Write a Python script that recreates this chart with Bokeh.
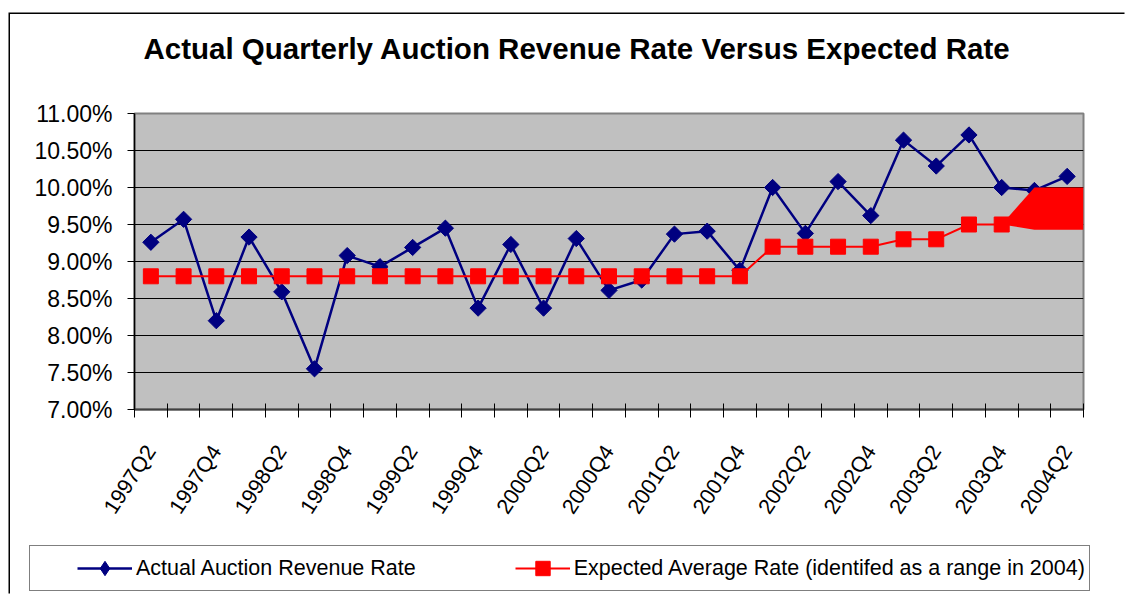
from bokeh.plotting import figure
from bokeh.models import FixedTicker, PrintfTickFormatter, Legend, LegendItem, Range1d, Title
from bokeh.layouts import column
from bokeh.embed import file_html
from bokeh.resources import INLINE
import math

# ---------------- data ----------------
quarters = ["1997Q2", "1997Q3", "1997Q4",
            "1998Q1", "1998Q2", "1998Q3", "1998Q4",
            "1999Q1", "1999Q2", "1999Q3", "1999Q4",
            "2000Q1", "2000Q2", "2000Q3", "2000Q4",
            "2001Q1", "2001Q2", "2001Q3", "2001Q4",
            "2002Q1", "2002Q2", "2002Q3", "2002Q4",
            "2003Q1", "2003Q2", "2003Q3", "2003Q4",
            "2004Q1", "2004Q2"]

actual = [9.26, 9.57, 8.20,
          9.33, 8.59, 7.55, 9.08,
          8.93, 9.19, 9.45, 8.37,
          9.23, 8.37, 9.31, 8.61,
          8.75, 9.37, 9.41, 8.88,
          10.00, 9.38, 10.08, 9.62,
          10.64, 10.29, 10.71, 10.00,
          9.96, 10.15]

expected_quarters = quarters[:27]
expected = [8.80, 8.80, 8.80,
            8.80, 8.80, 8.80, 8.80,
            8.80, 8.80, 8.80, 8.80,
            8.80, 8.80, 8.80, 8.80,
            8.80, 8.80, 8.80, 8.80,
            9.20, 9.20, 9.20, 9.20,
            9.30, 9.30, 9.50, 9.50]

# expected range identified for 2004
range_quarters = ["2003Q4", "2004Q1", "2004Q2"]
range_low = [9.50, 9.43, 9.43]
range_high = [9.50, 10.00, 10.00]

y_ticks = [7.0, 7.5, 8.0, 8.5, 9.0, 9.5, 10.0, 10.5, 11.0]
x_label_quarters = quarters[::2]

title_text = "Actual Quarterly Auction Revenue Rate Versus Expected Rate"
label_actual = "Actual Auction Revenue Rate"
label_expected = "Expected Average Rate (identifed as a range in 2004)"

# ---------------- styling ----------------
FONT = "Liberation Sans"
NAVY = "#000080"
RED = "#FF0000"

n = len(quarters)
x_actual = [quarters.index(q) for q in quarters]
x_expected = [quarters.index(q) for q in expected_quarters]

# ---------------- main chart ----------------
p = figure(width=1116, height=526, title=None,
           x_range=Range1d(-0.5, n - 0.5), y_range=Range1d(y_ticks[0], y_ticks[-1]),
           output_backend="svg", toolbar_location=None,
           min_border_left=124, min_border_right=43,
           min_border_top=99, min_border_bottom=131)
p.frame_align = False

p.background_fill_color = "#C0C0C0"
p.border_fill_color = "white"
p.outline_line_color = "#808080"
p.outline_line_width = 2

# spacer between title and plot area, then the title itself
p.add_layout(Title(text=" ", text_font_size="10px", standoff=36), "above")
p.add_layout(Title(text=title_text, text_font=FONT, text_font_size="29.5px",
                   text_font_style="bold", text_color="black", align="left",
                   offset=9, standoff=0), "above")

# grid
p.xgrid.grid_line_color = None
p.ygrid.ticker = FixedTicker(ticks=y_ticks)
p.ygrid.grid_line_color = "black"
p.ygrid.grid_line_width = 1

# y axis
ya = p.yaxis[0]
ya.ticker = FixedTicker(ticks=y_ticks)
ya.formatter = PrintfTickFormatter(format="%.2f%%")
ya.major_label_text_font = FONT
ya.major_label_text_font_size = "23px"
ya.major_label_text_color = "black"
ya.major_tick_out = 7
ya.major_tick_in = 0
ya.major_tick_line_color = "black"
ya.minor_tick_line_color = None
ya.axis_line_color = "black"
ya.axis_line_width = 1.5
ya.major_label_standoff = 15

# x axis
xa = p.xaxis[0]
label_idx = [quarters.index(q) for q in x_label_quarters]
xa.ticker = FixedTicker(ticks=label_idx, minor_ticks=[i - 0.5 for i in range(n + 1)])
xa.major_label_overrides = {i: quarters[i] for i in label_idx}
xa.major_label_orientation = math.radians(57)
xa.major_label_text_font = FONT
xa.major_label_text_font_size = "21.5px"
xa.major_label_text_color = "black"
xa.major_tick_in = 0
xa.major_tick_out = 0
xa.minor_tick_in = 6
xa.minor_tick_out = 8
xa.minor_tick_line_color = "black"
xa.minor_tick_line_width = 1
xa.axis_line_color = "#404040"
xa.axis_line_width = 2
xa.major_label_standoff = 30

# series
line_a = dict(line_color=NAVY, line_width=2.5)
mark_a = dict(marker="square", angle=math.pi / 4, size=11.5, fill_color=NAVY, line_color=NAVY)
line_e = dict(line_color=RED, line_width=2)
mark_e = dict(marker="square", size=15, fill_color=RED, line_color=RED)

p.line(x_actual, actual, **line_a)
p.scatter(x_actual, actual, **mark_a)
p.line(x_expected, expected, **line_e)
rx = [quarters.index(q) for q in range_quarters] + [p.x_range.end]
p.varea(x=rx, y1=range_low + [range_low[-1]], y2=range_high + [range_high[-1]],
        fill_color=RED)
p.scatter(x_expected, expected, **mark_e)

# ---------------- legend strip ----------------
# same series drawn again but outside this strip's visible ranges, only for the legend keys
lg = figure(width=1116, height=55, title=None, x_axis_location=None, y_axis_location=None,
            x_range=Range1d(-3 * n, -2 * n), y_range=Range1d(0, 1),
            output_backend="svg", toolbar_location=None,
            min_border_left=0, min_border_right=0, min_border_top=0, min_border_bottom=0)
lg.frame_align = False
lg.outline_line_color = None
lg.grid.grid_line_color = None
lg.background_fill_color = "white"
lg.border_fill_color = "white"

g1 = lg.line(x_actual, actual, **line_a)
g2 = lg.scatter(x_actual, actual, marker="diamond", size=16, fill_color=NAVY, line_color=NAVY)
g3 = lg.line(x_expected, expected, **line_e)
g4 = lg.scatter(x_expected, expected, **mark_e)

legend = Legend(items=[LegendItem(label=label_actual, renderers=[g1, g2]),
                       LegendItem(label=label_expected, renderers=[g3, g4])],
                orientation="horizontal", location=(19, 4))
legend.margin = 0
legend.padding = 4
legend.spacing = 99
legend.glyph_width = 55
legend.glyph_height = 36
legend.label_height = 36
legend.label_standoff = 4
legend.label_text_font = FONT
legend.label_text_font_size = "21.5px"
legend.label_text_color = "black"
legend.border_line_color = "black"
legend.border_line_width = 1
legend.background_fill_color = "white"
legend.background_fill_alpha = 1
legend.title = " "
legend.title_location = "left"
legend.title_standoff = 32
legend.title_text_font_size = "10px"
lg.add_layout(legend)

layout = column(p, lg, spacing=0)
layout.margin = (14, 0, 0, 10)
layout.styles = {"box-shadow": "-1.5px -1.5px 0 0 #000000"}

open("out.html", "w").write(file_html(layout, INLINE))
